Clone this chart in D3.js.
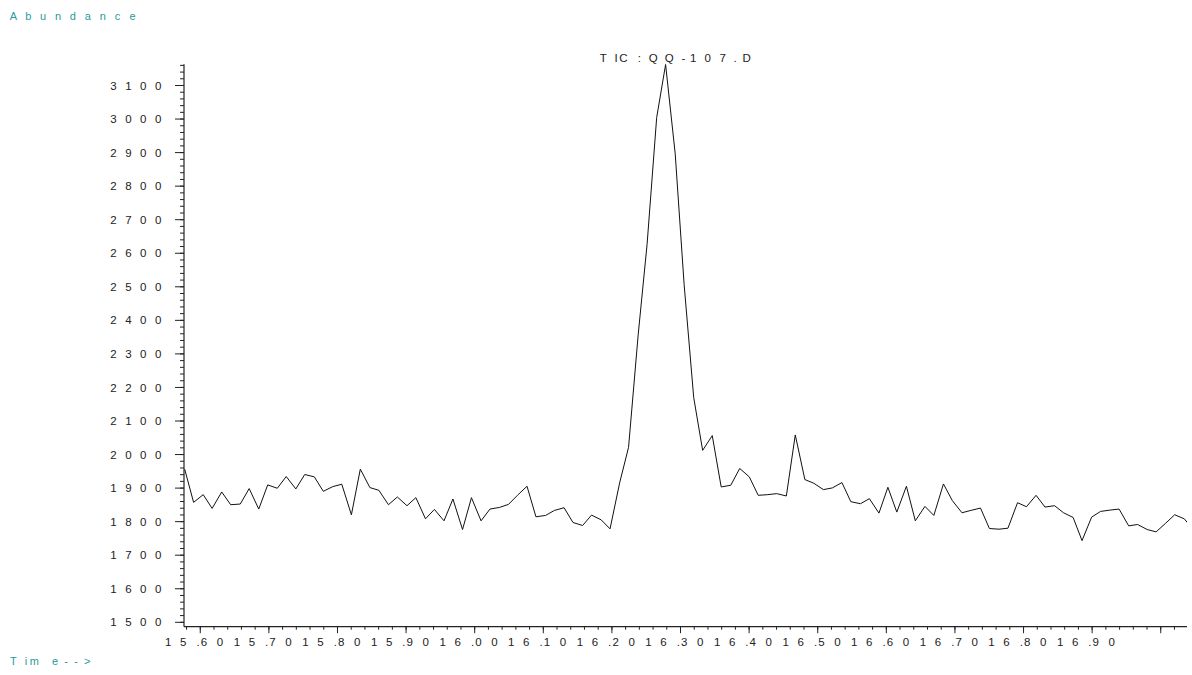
<!DOCTYPE html>
<html><head><meta charset="utf-8">
<script src="https://cdn.jsdelivr.net/npm/d3@7"></script>
<style>
body{margin:0;background:#fff}
svg{display:block}
text{font-family:"Liberation Sans",Arial,Helvetica,sans-serif}
</style>
</head><body>
<svg id="chart" width="1192" height="675"></svg>
<script>
// ---------- data ----------
const times = [15.578,15.591,15.605,15.618,15.632,15.645,15.659,15.672,15.686,15.699,
15.713,15.726,15.740,15.753,15.767,15.780,15.794,15.807,15.821,15.834,
15.848,15.861,15.875,15.888,15.902,15.915,15.929,15.942,15.956,15.969,
15.983,15.996,16.010,16.023,16.037,16.050,16.063,16.077,16.090,16.104,
16.117,16.131,16.144,16.158,16.171,16.185,16.198,16.212,16.225,16.239,
16.252,16.266,16.279,16.293,16.306,16.320,16.333,16.347,16.360,16.374,
16.387,16.401,16.414,16.428,16.441,16.455,16.468,16.482,16.495,16.509,
16.522,16.536,16.549,16.563,16.576,16.590,16.603,16.616,16.630,16.643,
16.657,16.670,16.684,16.697,16.711,16.724,16.738,16.751,16.765,16.778,
16.792,16.805,16.819,16.832,16.846,16.859,16.873,16.886,16.900,16.913,
16.927,16.940,16.954,16.967,16.981,16.994,17.008,17.021,17.035,17.048];
const abundance = [1955,1856,1879,1838,1887,1849,1851,1897,1836,1908,
1898,1933,1896,1939,1932,1889,1903,1910,1819,1955,
1900,1892,1849,1872,1846,1870,1807,1835,1801,1866,
1775,1870,1801,1836,1841,1850,1877,1904,1813,1817,
1832,1840,1796,1787,1818,1804,1777,1914,2020,2355,
2625,3003,3161,2895,2505,2168,2011,2055,1902,1907,
1957,1932,1877,1879,1882,1875,2057,1924,1913,1894,
1899,1915,1858,1852,1867,1824,1901,1827,1904,1801,
1844,1817,1911,1861,1825,1832,1839,1778,1776,1779,
1855,1843,1877,1842,1846,1825,1811,1742,1812,1829,
1833,1836,1786,1790,1775,1768,1794,1819,1807,1775];
const yMajorTicks = [1500,1600,1700,1800,1900,2000,2100,2200,2300,2400,2500,2600,2700,2800,2900,3000,3100];
const yMinorTicks = d3.range(1500, 3161, 20);
const xLabelTicks = [15.60,15.70,15.80,15.90,16.00,16.10,16.20,16.30,16.40,16.50,16.60,16.70,16.80,16.90];
const xTickLabels = ["15.60","15.70","15.80","15.90","16.00","16.10","16.20","16.30","16.40","16.50","16.60","16.70","16.80","16.90"];
const xMajorTicks = [15.60,15.70,15.80,15.90,16.00,16.10,16.20,16.30,16.40,16.50,16.60,16.70,16.80,16.90,17.00];
const xMinorTicks = d3.range(0, 73).map(i => +(15.58 + i * 0.02).toFixed(2));
const titleText = "TIC: QQ-107.D";
const yTitle = "Abundance";
const xTitle = "Time-->";

// ---------- layout ----------
const svg = d3.select("#chart");
const xDomain = [15.577, 17.039];
const x = d3.scaleLinear().domain(xDomain).range([184, 1187]);
const y = d3.scaleLinear().domain([1500, 3100]).range([621.8, 85]);
const yLow = 1485.4, yHigh = 3162;
const axisY0 = y(yLow);
const teal = "#2a9a9a", ink = "#222";

// clip
svg.append("defs").append("clipPath").attr("id","plotclip")
  .append("rect").attr("x", x(xDomain[0])).attr("y", 0)
  .attr("width", x(xDomain[1]) - x(xDomain[0])).attr("height", axisY0);

// y axis minor ticks
const gyMinor = svg.append("g").attr("transform", `translate(${x(xDomain[0])},0)`)
  .call(d3.axisLeft(y).tickValues(yMinorTicks).tickSize(4).tickFormat(""));
gyMinor.select(".domain").remove();
// y axis major ticks + labels
const gyMajor = svg.append("g").attr("transform", `translate(${x(xDomain[0])},0)`)
  .call(d3.axisLeft(y).tickValues(yMajorTicks).tickSize(9).tickPadding(4).tickFormat(d3.format("d")));
gyMajor.select(".domain").remove();
svg.selectAll(".tick line").attr("stroke", ink);
const yCharOff = [-70.5, -55.6, -40.7, -25.8];
gyMajor.selectAll(".tick text").each(function(d){
  const s = String(d);
  const t = d3.select(this).text("").attr("x", null).attr("dy", "0.36em")
    .attr("font-size", 11.5).attr("fill", ink).attr("text-anchor","middle")
    .attr("font-family", null);
  s.split("").forEach((ch, i) => {
    t.append("tspan").attr("x", yCharOff[i + (4 - s.length)]).text(ch);
  });
});

// x axis minor and major ticks
const gxMinor = svg.append("g").attr("transform", `translate(0,${axisY0})`)
  .call(d3.axisBottom(x).tickValues(xMinorTicks).tickSize(3).tickFormat(""));
gxMinor.select(".domain").remove();
const gxMajor = svg.append("g").attr("transform", `translate(0,${axisY0})`)
  .call(d3.axisBottom(x).tickValues(xMajorTicks).tickSize(6.5).tickFormat(""));
gxMajor.select(".domain").remove();
svg.selectAll(".tick line").attr("stroke", ink);

// x labels (character-spaced like the original)
const gxLab = svg.append("g").attr("transform", `translate(0,${axisY0})`)
  .call(d3.axisBottom(x).tickValues(xLabelTicks).tickSize(0).tickPadding(0)
    .tickFormat((d,i) => xTickLabels[i]));
gxLab.select(".domain").remove();
gxLab.selectAll(".tick line").remove();
const xCharOff = [-32, -17, -2.2, 3.7, 19.7];
gxLab.selectAll(".tick text").each(function(d, i){
  const s = xTickLabels[i];
  const t = d3.select(this).text("").attr("y", 19).attr("dy", null)
    .attr("font-size", 11.5).attr("fill", ink).attr("text-anchor","middle")
    .attr("font-family", null);
  s.split("").forEach((ch, k) => t.append("tspan").attr("x", xCharOff[k]).text(ch));
});

// axis lines
svg.append("line").attr("x1", x(xDomain[0])).attr("x2", x(xDomain[0]))
  .attr("y1", y(yHigh)).attr("y2", axisY0).attr("stroke", ink).attr("stroke-width", 1.2);
svg.append("line").attr("x1", x(xDomain[0])).attr("x2", x(xDomain[1]))
  .attr("y1", axisY0).attr("y2", axisY0).attr("stroke", ink).attr("stroke-width", 1.2);

// trace
const line = d3.line().x((d,i) => x(times[i])).y(d => y(d));
svg.append("path").datum(abundance)
  .attr("clip-path", "url(#plotclip)")
  .attr("fill", "none").attr("stroke", "#111").attr("stroke-width", 1)
  .attr("stroke-linejoin", "miter").attr("d", line);

// title (character positions)
const titleX = [603.3, 616, 623.3, 639.3, 653.3, 669.3, 683.3, 693.3, 707.7, 722.7, 735, 746.7];
const tt = svg.append("text").attr("y", 58.3).attr("dy", "0.36em")
  .attr("font-size", 11.5).attr("fill", ink).attr("text-anchor", "middle");
titleText.replace(/ /g, "").split("").forEach((ch, i) => tt.append("tspan").attr("x", titleX[i]).text(ch));

// Abundance label
const ta = svg.append("text").attr("y", 16).attr("dy", "0.36em")
  .attr("font-size", 11).attr("fill", teal).attr("text-anchor", "middle");
yTitle.split("").forEach((ch, i) => ta.append("tspan").attr("x", 13.3 + i * 14.9).text(ch));

// Time--> label
const timeX = [13.3, 26, 34.3, 55, 66, 76, 87.3];
const tx = svg.append("text").attr("y", 660.7).attr("dy", "0.36em")
  .attr("font-size", 11).attr("fill", teal).attr("text-anchor", "middle");
xTitle.split("").forEach((ch, i) => tx.append("tspan").attr("x", timeX[i]).text(ch));
</script>
</body></html>
